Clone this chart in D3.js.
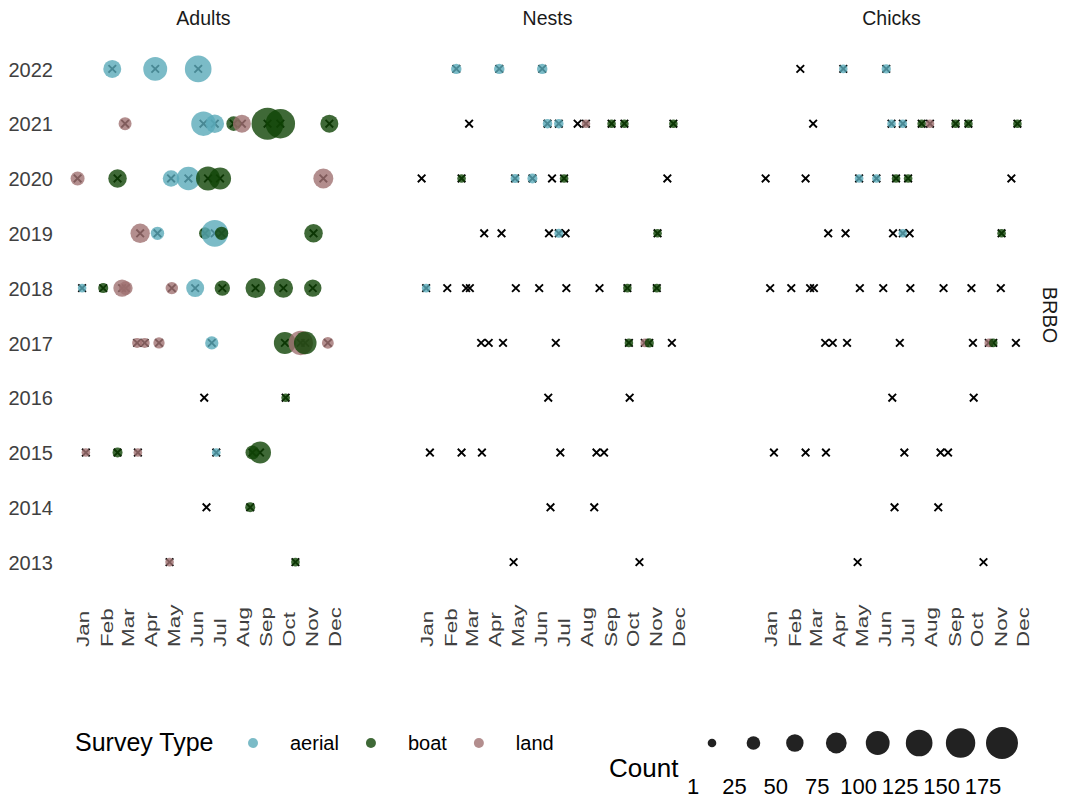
<!DOCTYPE html>
<html>
<head>
<meta charset="utf-8">
<script src="https://cdn.jsdelivr.net/npm/d3@7"></script>
<style>
  body { margin: 0; background: #fff; }
  svg { font-family: "Liberation Sans", Arial, sans-serif; }
</style>
</head>
<body>
<svg width="1067" height="798"></svg>
<script>
const panels = ['Adults', 'Nests', 'Chicks'];
const years = [2022, 2021, 2020, 2019, 2018, 2017, 2016, 2015, 2014, 2013];
const surveyTypes = ['aerial', 'boat', 'land'];
const typeColors = ['#5aaab9', '#0f4405', '#a07272'];
const countBreaks = [1, 25, 50, 75, 100, 125, 150, 175];

// one entry per survey
const surveyDate = [
  '2022-02-23', '2022-04-21', '2022-06-17',
  '2021-03-12', '2021-06-24', '2021-07-09', '2021-08-03', '2021-08-14', '2021-09-17', '2021-10-04', '2021-12-08',
  '2020-01-08', '2020-03-02', '2020-05-12', '2020-06-04', '2020-06-30', '2020-07-16', '2020-11-30',
  '2019-04-01', '2019-04-24', '2019-06-26', '2019-07-09', '2019-07-18', '2019-11-17',
  '2018-01-14', '2018-02-11', '2018-03-08', '2018-03-13', '2018-05-13', '2018-06-13', '2018-07-19', '2018-09-01', '2018-10-08', '2018-11-16',
  '2017-03-28', '2017-04-07', '2017-04-26', '2017-07-05', '2017-10-10', '2017-10-31', '2017-11-06', '2017-12-06',
  '2016-06-25', '2016-10-11',
  '2015-01-19', '2015-03-02', '2015-03-29', '2015-07-11', '2015-08-28', '2015-09-07',
  '2014-06-28', '2014-08-25',
  '2013-05-10', '2013-10-24'
];
const surveyType = [
  'aerial', 'aerial', 'aerial',
  'land', 'aerial', 'aerial', 'boat', 'land', 'boat', 'boat', 'boat',
  'land', 'boat', 'aerial', 'aerial', 'boat', 'boat', 'land',
  'land', 'aerial', 'boat', 'aerial', 'boat', 'boat',
  'aerial', 'boat', 'land', 'land', 'land', 'aerial', 'boat', 'boat', 'boat', 'boat',
  'land', 'land', 'land', 'aerial', 'boat', 'land', 'boat', 'land',
  'boat', 'boat',
  'land', 'boat', 'land', 'aerial', 'boat', 'boat',
  'boat', 'boat',
  'land', 'boat'
];
const adults = [
  54, 101, 125,
  21, 106, 58, 31, 54, 175, 150, 54,
  27, 58, 44, 96, 101, 85, 69,
  64, 23, 15, 125, 23, 58,
  1, 6, 50, 25, 18, 54, 36, 69, 64, 50,
  6, 6, 12, 23, 85, 106, 90, 15,
  0, 1,
  1, 6, 1, 1, 27, 85,
  0, 6,
  1, 1
];
const nests = [
  8, 8, 8,
  0, 4, 4, 0, 1, 1, 1, 1,
  0, 1, 2, 6, 0, 1, 0,
  0, 0, 0, 2, 0, 1,
  1, 0, 0, 0, 0, 0, 0, 0, 1, 1,
  0, 0, 0, 0, 1, 1, 3, 0,
  0, 0,
  0, 0, 0, 0, 0, 0,
  0, 0,
  0, 0
];
const chicks = [
  0, 1, 3,
  0, 1, 1, 1, 1, 1, 1, 1,
  0, 0, 1, 1, 1, 1, 0,
  0, 0, 0, 1, 0, 1,
  0, 0, 0, 0, 0, 0, 0, 0, 0, 0,
  0, 0, 0, 0, 0, 1, 1, 0,
  0, 0,
  0, 0, 0, 0, 0, 0,
  0, 0,
  0, 0
];

const parse = d3.timeParse('%Y-%m-%d');
const surveys = surveyDate.map((d, i) => {
  const t = parse(d);
  return {
    year: t.getFullYear(),
    day: new Date(2001, t.getMonth(), t.getDate()),
    type: surveyType[i],
    counts: [adults[i], nests[i], chicks[i]],
  };
});

const svg = d3.select('svg');

const panelScale = d3.scaleBand().domain(panels).range([65, 1030]).paddingInner(0.195);

const ext = d3.extent(surveys, (d) => d.day);
const pad = (ext[1] - ext[0]) * 0.05;
const x = d3
  .scaleTime()
  .domain([new Date(+ext[0] - pad), new Date(+ext[1] + pad)])
  .range([0, panelScale.bandwidth()]);

const y = d3.scalePoint().domain(years).range([36, 595]).padding(0.6);

const colorScale = d3.scaleOrdinal().domain(surveyTypes).range(typeColors);
const sizeScale = d3.scalePow().exponent(0.75).domain([1, 175]).range([4.3, 16]);

const cross = 'M-3.8,-3.8L3.8,3.8M-3.8,3.8L3.8,-3.8';

// year axis
const yAxis = svg
  .append('g')
  .attr('transform', `translate(${panelScale('Adults')},0)`)
  .call(d3.axisLeft(y).tickSize(0).tickPadding(12))
  .attr('font-family', null)
  .attr('font-size', null);
yAxis.select('.domain').remove();
yAxis.selectAll('text').attr('font-size', 20).attr('fill', '#404040').attr('dy', '0.36em');

const monthTicks = d3.range(12).map((m) => new Date(2001, m, 15));

const g = svg
  .selectAll('g.panel')
  .data(panels)
  .join('g')
  .attr('class', 'panel')
  .attr('transform', (d) => `translate(${panelScale(d)},0)`);

g.append('text')
  .attr('x', panelScale.bandwidth() / 2)
  .attr('y', 25)
  .attr('text-anchor', 'middle')
  .attr('font-size', 19.5)
  .attr('fill', '#1a1a1a')
  .text((d) => d);

g.each(function () {
  const ax = d3
    .select(this)
    .append('g')
    .attr('transform', 'translate(0,595)')
    .call(d3.axisBottom(x).tickValues(monthTicks).tickFormat(d3.timeFormat('%b')).tickSize(0))
    .attr('font-family', null)
    .attr('font-size', null);
  ax.select('.domain').remove();
  ax.selectAll('text')
    .attr('y', null)
    .attr('dy', '0.35em')
    .attr('text-anchor', 'start')
    .attr('font-size', 17)
    .attr('fill', '#404040')
    .attr('transform', 'translate(0,52) rotate(-90) scale(1.32,1)');
});

g.selectAll('path.mark')
  .data(surveys)
  .join('path')
  .attr('class', 'mark')
  .attr('d', cross)
  .attr('transform', (d) => `translate(${x(d.day)},${y(d.year)})`)
  .attr('fill', 'none')
  .attr('stroke', '#000')
  .attr('stroke-width', 1.9);

g.selectAll('circle')
  .data((p) =>
    surveys.map((s) => Object.assign({}, s, { n: s.counts[panels.indexOf(p)] })).filter((d) => d.n > 0)
  )
  .join('circle')
  .attr('cx', (d) => x(d.day))
  .attr('cy', (d) => y(d.year))
  .attr('r', (d) => sizeScale(d.n))
  .attr('fill', (d) => colorScale(d.type))
  .attr('fill-opacity', 0.8);

svg
  .append('text')
  .attr('transform', 'translate(1050,315) rotate(90)')
  .attr('dy', '0.35em')
  .attr('text-anchor', 'middle')
  .attr('font-size', 20)
  .attr('fill', '#1a1a1a')
  .text('BRBO');

// legend: survey type
const legend = svg.append('g');
legend
  .append('text')
  .attr('x', 75)
  .attr('y', 751)
  .attr('font-size', 25)
  .attr('fill', '#000')
  .text('Survey Type');

let kx = 253;
surveyTypes.forEach((t) => {
  legend
    .append('circle')
    .attr('cx', kx)
    .attr('cy', 743)
    .attr('r', 5)
    .attr('fill', colorScale(t))
    .attr('fill-opacity', 0.8);
  const lab = legend
    .append('text')
    .attr('x', kx + 37)
    .attr('y', 750)
    .attr('font-size', 20)
    .attr('fill', '#000')
    .text(t);
  kx = kx + 37 + lab.node().getComputedTextLength() + 32;
});

// legend: count
legend
  .append('text')
  .attr('x', 609)
  .attr('y', 777)
  .attr('font-size', 26)
  .attr('fill', '#000')
  .text('Count');

const keyX = d3.scalePoint().domain(countBreaks).range([712, 1002]);
legend
  .selectAll('circle.size')
  .data(countBreaks)
  .join('circle')
  .attr('class', 'size')
  .attr('cx', (d) => keyX(d))
  .attr('cy', 743)
  .attr('r', (d) => sizeScale(d))
  .attr('fill', '#222');

legend
  .selectAll('text.size')
  .data(countBreaks)
  .join('text')
  .attr('class', 'size')
  .attr('x', (d) => keyX(d) - 19)
  .attr('y', 794)
  .attr('text-anchor', 'middle')
  .attr('font-size', 22)
  .attr('fill', '#000')
  .text((d) => d);
</script>
</body>
</html>
